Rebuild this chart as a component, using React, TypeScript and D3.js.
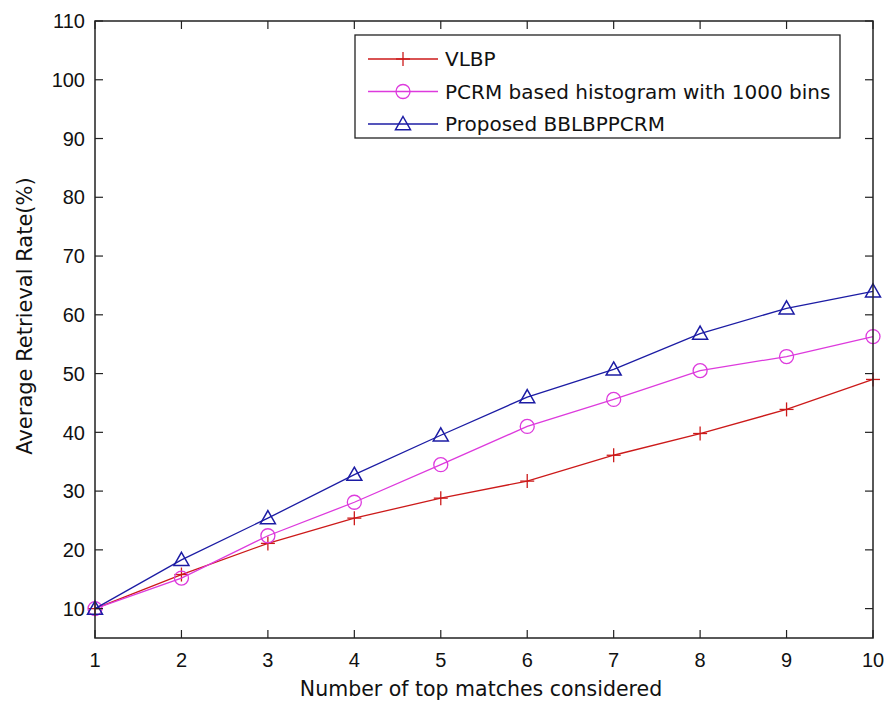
import * as d3 from "d3";

const xValues = [1, 2, 3, 4, 5, 6, 7, 8, 9, 10];
const yTickValues = [10, 20, 30, 40, 50, 60, 70, 80, 90, 100, 110];

const vlbp = [10, 15.8, 21.1, 25.4, 28.8, 31.7, 36.1, 39.8, 43.9, 49.0];
const pcrm = [10, 15.2, 22.4, 28.1, 34.5, 41.0, 45.6, 50.5, 52.9, 56.3];
const proposed = [10, 18.3, 25.4, 32.8, 39.5, 46.0, 50.7, 56.8, 61.1, 64.0];

const seriesNames = [
  "VLBP",
  "PCRM based histogram with 1000 bins",
  "Proposed BBLBPPCRM",
];
const seriesColors = ["#cc1a1a", "#dd3add", "#1c1ca4"];
const seriesMarkers = ["plus", "circle", "triangle"];
const seriesValues = [vlbp, pcrm, proposed];

const W = 889;
const H = 702;
const plot = { left: 95, right: 873, top: 21, bottom: 638 };
const tickFont = "'Liberation Sans', Arial, sans-serif";
const labelFont = "'DejaVu Sans', sans-serif";

function Marker({ type, x, y, color }: { type: string; x: number; y: number; color: string }) {
  if (type === "plus") {
    return (
      <g stroke={color} strokeWidth={1.3}>
        <line x1={x - 7} y1={y} x2={x + 7} y2={y} />
        <line x1={x} y1={y - 7} x2={x} y2={y + 7} />
      </g>
    );
  }
  if (type === "circle") {
    return <circle cx={x} cy={y} r={7} fill="none" stroke={color} strokeWidth={1.3} />;
  }
  const s = 7.5;
  return (
    <path
      d={`M${x},${y - s}L${x + s},${y + s * 0.75}L${x - s},${y + s * 0.75}Z`}
      fill="none"
      stroke={color}
      strokeWidth={1.5}
    />
  );
}

export default function App() {
  const x = d3.scaleLinear().domain([1, 10]).range([plot.left, plot.right]);
  const y = d3.scaleLinear().domain([5, 110]).range([plot.bottom, plot.top]);

  const line = d3
    .line<number>()
    .x((_, i) => x(xValues[i]))
    .y((d) => y(d));

  const tickLen = 8;
  const legend = { left: 355, top: 35, right: 840, bottom: 138 };
  const legendRowY = [59, 91.5, 124];

  return (
    <div style={{ position: "absolute", left: 0, top: 0 }}>
      <svg width={W} height={H} style={{ display: "block", background: "#fff" }}>
        <rect x={0} y={0} width={W} height={H} fill="#fff" />

        {/* series */}
        {seriesValues.map((vals, si) => (
          <g key={si}>
            <path d={line(vals) ?? ""} fill="none" stroke={seriesColors[si]} strokeWidth={1.3} />
            {vals.map((v, i) => (
              <Marker key={i} type={seriesMarkers[si]} x={x(xValues[i])} y={y(v)} color={seriesColors[si]} />
            ))}
          </g>
        ))}

        {/* axes box */}
        <rect
          x={plot.left}
          y={plot.top}
          width={plot.right - plot.left}
          height={plot.bottom - plot.top}
          fill="none"
          stroke="#222"
          strokeWidth={1.5}
        />
        {xValues.map((t) => (
          <g key={"xt" + t}>
            <line x1={x(t)} y1={plot.bottom} x2={x(t)} y2={plot.bottom - tickLen} stroke="#222" strokeWidth={1.2} />
            <line x1={x(t)} y1={plot.top} x2={x(t)} y2={plot.top + tickLen} stroke="#222" strokeWidth={1.2} />
            <text x={x(t)} y={667} textAnchor="middle" fontFamily={tickFont} fontSize={20} fill="#111">
              {t}
            </text>
          </g>
        ))}
        {yTickValues.map((t) => (
          <g key={"yt" + t}>
            <line x1={plot.left} y1={y(t)} x2={plot.left + tickLen} y2={y(t)} stroke="#222" strokeWidth={1.2} />
            <line x1={plot.right} y1={y(t)} x2={plot.right - tickLen} y2={y(t)} stroke="#222" strokeWidth={1.2} />
            <text
              x={85}
              y={y(t)}
              dy="0.36em"
              textAnchor="end"
              fontFamily={tickFont}
              fontSize={20}
              fill="#111"
            >
              {t}
            </text>
          </g>
        ))}

        {/* axis titles */}
        <text
          x={(plot.left + plot.right) / 2 - 3}
          y={696}
          textAnchor="middle"
          fontFamily={labelFont}
          fontSize={20.5}
          fill="#111"
        >
          Number of top matches considered
        </text>
        <text
          transform={`translate(32, 316) rotate(-90)`}
          textAnchor="middle"
          fontFamily={labelFont}
          fontSize={21}
          fill="#111"
        >
          Average Retrieval Rate(%)
        </text>

        {/* legend */}
        <rect
          x={legend.left}
          y={legend.top}
          width={legend.right - legend.left}
          height={legend.bottom - legend.top}
          fill="#fff"
          stroke="#222"
          strokeWidth={1.3}
        />
        {seriesNames.map((name, i) => (
          <g key={"lg" + i}>
            <line x1={368} y1={legendRowY[i]} x2={438} y2={legendRowY[i]} stroke={seriesColors[i]} strokeWidth={1.3} />
            <Marker type={seriesMarkers[i]} x={403} y={legendRowY[i]} color={seriesColors[i]} />
            <text
              x={445}
              y={legendRowY[i]}
              dy="0.36em"
              fontFamily={labelFont}
              fontSize={20}
              fill="#111"
            >
              {name}
            </text>
          </g>
        ))}
      </svg>
    </div>
  );
}
